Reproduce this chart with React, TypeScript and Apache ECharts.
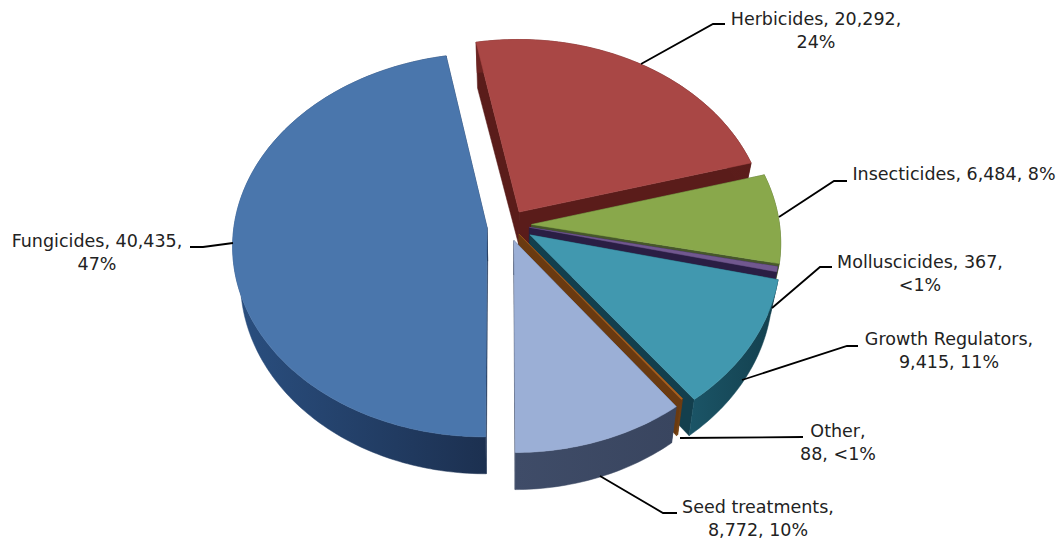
import React, { useEffect, useRef } from "react";
import * as echarts from "echarts";

const categories = ["Herbicides", "Insecticides", "Molluscicides", "Growth Regulators", "Other", "Seed treatments", "Fungicides"];
const seriesValues = [20292, 6484, 367, 9415, 88, 8772, 40435];
const labelLines = [
  ["Herbicides, 20,292,", "24%"],
  ["Insecticides, 6,484, 8%"],
  ["Molluscicides, 367,", "<1%"],
  ["Growth Regulators,", "9,415, 11%"],
  ["Other,", "88, <1%"],
  ["Seed treatments,", "8,772, 10%"],
  ["Fungicides, 40,435,", "47%"],
];
const explodeFractions = [0.062, 0.087, 0.08, 0.095, 0.06, 0.075, 0.087];
const sliceNudge = [[1, -2], [0, 1], [0, 0], [0, 1], [0, 1], [-2, 3], [-1, 2]];
const faceDepth = [1.5, 1, 1, 1, 1, 1, 1];
const topColors = ["#A94745", "#89A84B", "#71588F", "#4198AF", "#A8601F", "#9BAFD6", "#4A76AC"];
const wallColors = ["#6E2422", "#55692E", "#33244F", "#1B5567", "#7A4514", "#3F4C68", "#2A4F80"];
const wallDark = ["#5A1C1A", "#46572A", "#2A1E44", "#133F4D", "#6A3A10", "#39455F", "#1C3050"];
const labelCenters = [[816, 19], [954, 174], [920, 262], [949, 339], [838, 431], [758, 507], [97, 241]];
const leaderPoints = [
  [[725, 24], [713, 24], [641, 64]],
  [[847, 181], [834, 181], [779, 217]],
  [[832, 267], [820, 267], [772, 308]],
  [[858, 346], [847, 346], [742, 380]],
  [[803, 437], [680, 438]],
  [[677, 513], [663, 513], [600, 476]],
  [[190, 247], [203, 247], [233, 243]],
];

const START_ANGLE = 349.4;
const CX = 510, CY = 224, KX_LEFT = 253, KX_RIGHT = 248, KY = 190, P = 0.091, DEPTH = 33.5, BOTTOM_SHRINK = 0.028;

function proj(X: number, Y: number, Z: number, nudge: number[]) {
  const s = 1 / (1 + P * Y);
  const kx = X < 0 ? KX_LEFT : KX_RIGHT;
  return [CX + nudge[0] + kx * X * s * (1 - BOTTOM_SHRINK * Z), CY + nudge[1] - KY * Y * s + Z * DEPTH * s];
}

function buildSlice(index: number) {
  const total = seriesValues.reduce((a, b) => a + b, 0);
  let a0 = START_ANGLE;
  for (let i = 0; i < index; i++) a0 += (seriesValues[i] / total) * 360;
  const a1 = a0 + (seriesValues[index] / total) * 360;
  const mid = ((a0 + a1) / 2) * Math.PI / 180;
  const e = explodeFractions[index];
  const ox = Math.sin(mid) * e, oy = Math.cos(mid) * e;
  const rim: number[][] = [];
  const steps = Math.max(2, Math.ceil(a1 - a0));
  for (let i = 0; i <= steps; i++) {
    const t = (a0 + ((a1 - a0) * i) / steps) * Math.PI / 180;
    rim.push([ox + Math.sin(t), oy + Math.cos(t)]);
  }
  const n = sliceNudge[index];
  const P3 = (q: number[], z: number) => proj(q[0], q[1], z, n);
  const apex = [ox, oy];
  const first = rim[0], last = rim[rim.length - 1];
  const fd = faceDepth[index];
  const top = [P3(apex, 0), ...rim.map((q) => P3(q, 0))];
  const wall = [...rim.map((q) => P3(q, 0)), ...rim.slice().reverse().map((q) => P3(q, 1))];
  const face0 = [P3(apex, 0), P3(first, 0), P3(first, fd), P3(apex, 1)];
  const face1 = [P3(apex, 0), P3(last, 0), P3(last, 1), P3(apex, 1)];
  const xs = wall.map((p) => p[0]);
  const minX = Math.min(...xs), maxX = Math.max(...xs);
  const wallFill = {
    type: "linear", x: minX, y: 0, x2: maxX, y2: 0, global: true,
    colorStops: [{ offset: 0, color: wallColors[index] }, { offset: 1, color: wallDark[index] }],
  };
  const poly = (points: number[][], fill: any, z2: number) => ({
    type: "polygon", z2, shape: { points }, style: { fill, stroke: fill, lineWidth: 0.5 }, silent: true,
  });
  const base = index * 10;
  return [
    poly(face0, wallDark[index], base + 1),
    poly(face1, wallDark[index], base + 1),
    poly(wall, wallFill, base + 2),
    poly(top, topColors[index], base + 3),
  ];
}

function buildLabel(index: number) {
  const lines = labelLines[index];
  const [x, y] = labelCenters[index];
  const children: any[] = lines.map((text, i) => ({
    type: "text", z2: 200,
    style: { x, y: y + i * 23, text, fill: "#222", font: '17.5px "DejaVu Sans"', textAlign: "center", textVerticalAlign: "middle" },
  }));
  children.push({
    type: "polyline", z2: 100,
    shape: { points: leaderPoints[index] },
    style: { fill: "none", stroke: "#000", lineWidth: 1.8 },
  });
  return children;
}

export default function App() {
  const ref = useRef<HTMLDivElement>(null);
  useEffect(() => {
    const chart = echarts.init(ref.current!, undefined, { renderer: "svg" });
    chart.setOption({
      animation: false,
      backgroundColor: "#fff",
      series: [{
        type: "custom",
        coordinateSystem: "none",
        data: categories.map((name, i) => ({ name, value: seriesValues[i] })),
        renderItem: (params: any) => ({
          type: "group",
          children: [...buildSlice(params.dataIndex), ...buildLabel(params.dataIndex)],
        }),
      }],
    });
    return () => chart.dispose();
  }, []);
  return <div ref={ref} style={{ position: "fixed", left: 0, top: 0, width: 1064, height: 545 }} />;
}
